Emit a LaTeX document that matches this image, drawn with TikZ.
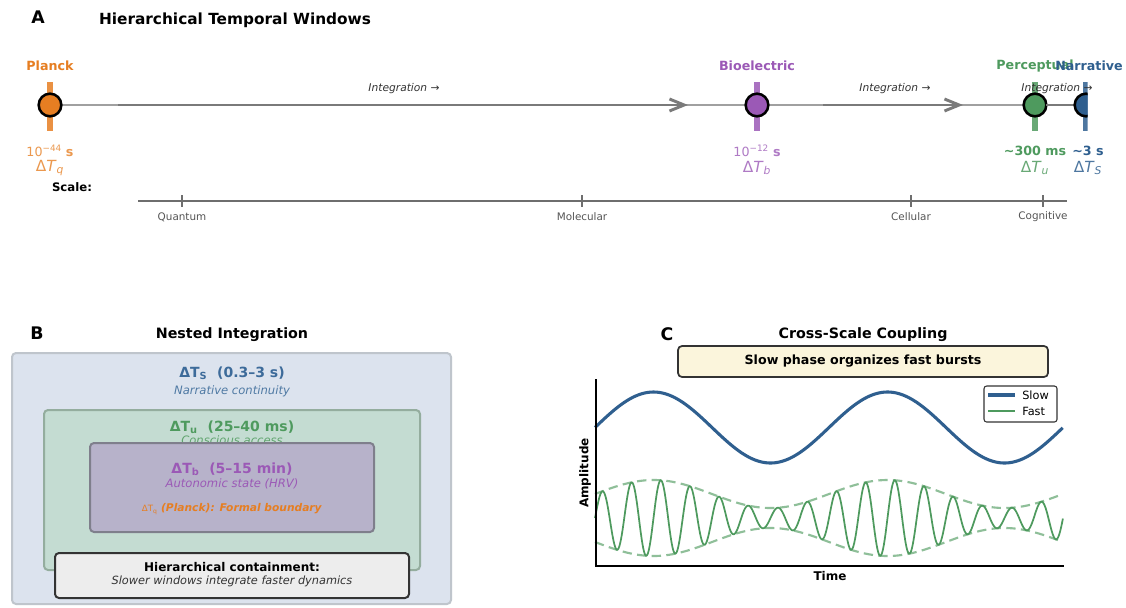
\documentclass[tikz,border=0pt]{standalone}
\usepackage{fontspec}
\setmainfont{DejaVu Sans}
\usetikzlibrary{arrows.meta}
\definecolor{corange}{HTML}{E67E22}
\definecolor{cpurple}{HTML}{9B59B6}
\definecolor{cgreen}{HTML}{4E9A5E}
\definecolor{cblue}{HTML}{2F5F8F}
\definecolor{cbtext}{HTML}{3D6B9A}
\definecolor{cline}{HTML}{A0A0A0}
\definecolor{carrow}{HTML}{7A7A7A}
\definecolor{cscale}{HTML}{6E6E6E}
\definecolor{cscaletext}{HTML}{555555}
\definecolor{bouter}{HTML}{DCE3EE}
\definecolor{bouterd}{HTML}{BFC5CC}
\definecolor{bgreen}{HTML}{C4DCD2}
\definecolor{bgreend}{HTML}{94AD9E}
\definecolor{bpurple}{HTML}{B4A8C8}
\definecolor{bpurpled}{HTML}{7F7F8C}
\definecolor{bgrey}{HTML}{EDEDED}
\definecolor{bdark}{HTML}{333333}
\definecolor{bcream}{HTML}{FBF5DC}
\definecolor{fdash}{HTML}{8FBF99}
\begin{document}
\begin{tikzpicture}[x=0.75pt,y=-0.75pt,
  lbl/.style={inner sep=0pt, outer sep=0pt, anchor=center},
  plab/.style={lbl, font=\fontsize{13}{15}\selectfont\bfseries},
  ptitA/.style={lbl, font=\fontsize{11.5}{14}\selectfont\bfseries},
  ptit/.style={lbl, font=\fontsize{10.7}{13}\selectfont\bfseries},
  dot/.style={circle, draw=black, line width=1.9pt, minimum size=17pt, inner sep=0pt},
  winbar/.style={line width=5.2pt},
  bgline/.style={draw=cline, line width=1.5pt},
  intline/.style={draw=carrow, line width=2.2pt},
  intarrow/.style={intline, -{Straight Barb[length=11pt,width=9pt]}},
  intlab/.style={lbl, font=\fontsize{8}{10}\selectfont\itshape, text=black!80},
  winname/.style={lbl, font=\fontsize{9.5}{11}\selectfont\bfseries},
  winval/.style={lbl, font=\fontsize{9.5}{11}\selectfont},
  windt/.style={lbl, font=\fontsize{11.5}{13}\selectfont},
  scaletick/.style={draw=cscale, line width=0.9pt},
  scalelab/.style={lbl, font=\fontsize{7.8}{9}\selectfont, text=cscaletext},
  nbox/.style={rounded corners=3pt, line width=1.5pt},
  bhead/.style={lbl, font=\fontsize{10.5}{12}\selectfont\bfseries},
  bsub/.style={lbl, font=\fontsize{8.7}{10}\selectfont\itshape},
  axlab/.style={lbl, font=\fontsize{9}{11}\selectfont\bfseries},
  leglab/.style={inner sep=0pt, anchor=west, font=\fontsize{8.5}{10}\selectfont}
]
\useasboundingbox (0,0) rectangle (1126,607);
\fill[white] (0,0) rectangle (1126,607);

% ================= Panel A =================
\node[plab] (lA) at (38,17) {A};
\node[ptitA] (tA) at (235,20) {Hierarchical Temporal Windows};

\coordinate (lineL) at (50,105);
\coordinate (lineR) at (1086,105);
\draw[bgline] (lineL) -- (lineR);

% window bars
\draw[winbar, corange!85] (50,82) -- (50,131);
\draw[winbar, cpurple!85] (757,82) -- (757,131);
\draw[winbar, cgreen!85] (1035,82) -- (1035,131);

% window dots
\node[dot, fill=corange] (pq) at (50,105) {};
\node[dot, fill=cpurple] (pb) at (757,105) {};
\node[dot, fill=cgreen] (pu) at (1035,105) {};
\coordinate (ps) at (1086,105);

% integration arrows
\draw[intarrow, shorten <=51pt, shorten >=51.75pt] (pq.center) -- (pb.center);
\draw[intarrow, shorten <=49.5pt, shorten >=54pt] (pb.center) -- (pu.center);
\draw[intline, shorten <=8pt, shorten >=2pt] (pu.center) -- (ps);

\begin{scope}
  \clip (0,0) rectangle (1087.5,607);
  \draw[winbar, cblue!85] (1086,82) -- (1086,131);
  \node[dot, fill=cblue] (psdot) at (ps) {};
\end{scope}

\node[intlab] (il1) at (404,89) {Integration →};
\node[intlab] (il2) at (895,89) {Integration →};
\node[intlab] (il3) at (1057,89) {Integration →};

% names
\node[winname, text=corange] (nq) at (50,66) {Planck};
\node[winname, text=cpurple] (nb) at (757,66) {Bioelectric};
\node[winname, text=cgreen] (nu) at (1035,66) {Perceptual};
\node[winname, text=cblue] (ns) at (1089,66) {Narrative};

% values
\node[winval, text=corange!80] (vq) at (50,151) {10\textsuperscript{−44} \textbf{s}};
\node[winval, text=cpurple!80] (vb) at (757,151) {10\textsuperscript{−12} \textbf{s}};
\node[winval, text=cgreen, font=\fontsize{9.5}{11}\selectfont\bfseries] (vu) at (1035,151) {\textasciitilde300 ms};
\node[winval, text=cblue, font=\fontsize{9.5}{11}\selectfont\bfseries] (vs) at (1088,151) {\textasciitilde3 s};

\node[windt, text=corange!80] (dq) at (50,168) {Δ\textit{T}\textsubscript{\textit{q}}};
\node[windt, text=cpurple!80] (db) at (757,168) {Δ\textit{T}\textsubscript{\textit{b}}};
\node[windt, text=cgreen!85] (du) at (1035,168) {Δ\textit{T}\textsubscript{\textit{u}}};
\node[windt, text=cblue!85] (ds) at (1088,168) {Δ\textit{T}\textsubscript{\textit{S}}};

% scale
\node[lbl, font=\fontsize{8.8}{10}\selectfont\bfseries] (scl) at (72,187) {Scale:};
\coordinate (sL) at (138,201);
\coordinate (sR) at (1067,201);
\draw[draw=cscale, line width=1.5pt] (sL) -- (sR);
\foreach \xx/\nm/\tx in {182/sqn/Quantum, 582/smo/Molecular, 911/sce/Cellular, 1043/sco/Cognitive}{
  \draw[scaletick] (\xx,195) -- (\xx,207);
  \node[scalelab] (\nm) at (\xx,217) {\tx};
}

% ================= Panel B =================
\node[plab] (lB) at (37,333) {B};
\node[ptit] (tB) at (232,335) {Nested Integration};

\draw[nbox, fill=bouter, draw=bouterd] (12,353) rectangle (451,604);
\node[bhead, text=cbtext] (hs) at (232,373) {ΔT\textsubscript{S}\ \ (0.3–3 s)};
\node[bsub, text=cbtext!90] (ss) at (232,391) {Narrative continuity};

\draw[nbox, fill=bgreen, draw=bgreend] (44,410) rectangle (420,570);
\node[bhead, text=cgreen] (hu) at (232,427) {ΔT\textsubscript{u}\ \ (25–40 ms)};
\node[bsub, text=cgreen!90] (su) at (232,440) {Conscious access};

\draw[nbox, fill=bpurple, fill opacity=0.8, draw=bpurpled] (90,443) rectangle (374,532);
\node[bhead, text=cpurple] (hb) at (232,469) {ΔT\textsubscript{b}\ \ (5–15 min)};
\node[bsub, text=cpurple] (sb) at (232,484) {Autonomic state (HRV)};
\node[lbl, text=corange, font=\fontsize{8}{10}\selectfont] (hq) at (232,509) {{\fontsize{6.5}{8}\selectfont ΔT\textsubscript{q}} \textbf{\textit{(Planck): Formal boundary}}};

\draw[nbox, fill=bgrey, draw=bdark] (55,553) rectangle (409,598);
\node[lbl, font=\fontsize{9}{11}\selectfont\bfseries] (hc) at (232,567) {Hierarchical containment:};
\node[lbl, font=\fontsize{8.5}{10}\selectfont\itshape, text=black!80] (hc2) at (232,581) {Slower windows integrate faster dynamics};

% ================= Panel C =================
\node[plab] (lC) at (667,334) {C};
\node[ptit] (tC) at (863,335) {Cross-Scale Coupling};
\draw[nbox, fill=bcream, draw=bdark, line width=1.3pt] (678,346) rectangle (1048,377);
\node[lbl, font=\fontsize{9.5}{11}\selectfont\bfseries] (cap) at (863,361) {Slow phase organizes fast bursts};

% envelopes (t in [0,1])
\draw[fdash, line width=1.6pt, dash pattern=on 7pt off 4pt]
  plot[domain=0:1, samples=160] ({595+468*\x}, {518 - (24 + 14*sin(720*\x))});
\draw[fdash, line width=1.6pt, dash pattern=on 7pt off 4pt]
  plot[domain=0:1, samples=160] ({595+468*\x}, {518 + (24 + 14*sin(720*\x))});
% fast
\draw[cgreen, line width=1.3pt, line join=round]
  plot[domain=0:1, samples=900] ({595+468*\x}, {518 - (24 + 14*sin(720*\x))*sin(5760*\x)});
% slow
\draw[cblue, line width=2.3pt, line join=round]
  plot[domain=0:1, samples=240] ({595+468*\x}, {427.5 - 35.5*sin(720*\x)});

% axes
\coordinate (axT) at (596,379);
\coordinate (axO) at (596,566);
\coordinate (axR) at (1064,566);
\draw[black, line width=1.3pt] (axT) -- (axO) -- (axR);
\node[axlab, rotate=90] (ya) at (585,473) {Amplitude};
\node[axlab] (xa) at (830,576) {Time};

% legend
\draw[rounded corners=2pt, fill=white, draw=bdark, line width=0.8pt] (984,386) rectangle (1057,422);
\draw[cblue, line width=2.3pt] (988,395) -- (1015,395);
\draw[cgreen, line width=1.2pt] (988,411) -- (1015,411);
\node[leglab] (lgs) at (1022,395) {Slow};
\node[leglab] (lgf) at (1022,411) {Fast};
\end{tikzpicture}
\end{document}
